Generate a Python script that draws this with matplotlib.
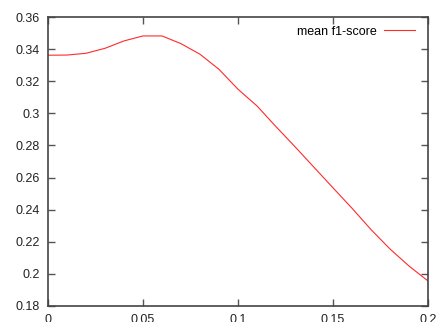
import numpy as np
import matplotlib.pyplot as plt

# values
threshold = [0.00, 0.01, 0.02, 0.03, 0.04, 0.05, 0.06, 0.07, 0.08, 0.09, 0.10,
             0.11, 0.12, 0.13, 0.14, 0.15, 0.16, 0.17, 0.18, 0.19, 0.20]
mean_f1 = [0.3362, 0.3363, 0.3374, 0.3405, 0.3451, 0.3482, 0.3482, 0.3434,
           0.3368, 0.3274, 0.3150, 0.3046, 0.2917, 0.2792, 0.2664, 0.2536,
           0.2409, 0.2276, 0.2155, 0.2049, 0.1956]
xticks = [0, 0.05, 0.1, 0.15, 0.2]
xlabels = ['0', '0.05', '0.1', '0.15', '0.2']
yticks = [0.18, 0.2, 0.22, 0.24, 0.26, 0.28, 0.3, 0.32, 0.34, 0.36]
ylabels = ['0.18', '0.2', '0.22', '0.24', '0.26', '0.28', '0.3', '0.32', '0.34', '0.36']

plt.rcParams['font.family'] = ['Liberation Sans', 'DejaVu Sans']
fig = plt.figure(figsize=(4.46, 3.22), dpi=100)
ax = fig.add_axes([48 / 446, 16 / 322, 380 / 446, 289 / 322])

ax.plot(threshold, mean_f1, color='#ff2a2a', lw=0.8, label='mean f1-score')

ax.set_xlim(0, 0.2)
ax.set_ylim(0.18, 0.36)
ax.set_xticks(xticks, xlabels)
ax.set_yticks(yticks, ylabels)
ax.tick_params(direction='in', length=5, width=1, color='#555555',
               top=True, right=True, labelsize=9, pad=6, labelcolor='#222222')
for s in ax.spines.values():
    s.set_color('#444444')
    s.set_linewidth(1.2)

leg = ax.legend(loc='upper right', bbox_to_anchor=(1 - 4 / 380, 1),
                frameon=False, markerfirst=False, fontsize=9,
                handlelength=2.5, borderaxespad=0.3, handletextpad=0.6)

fig.savefig('out.png', dpi=100)
